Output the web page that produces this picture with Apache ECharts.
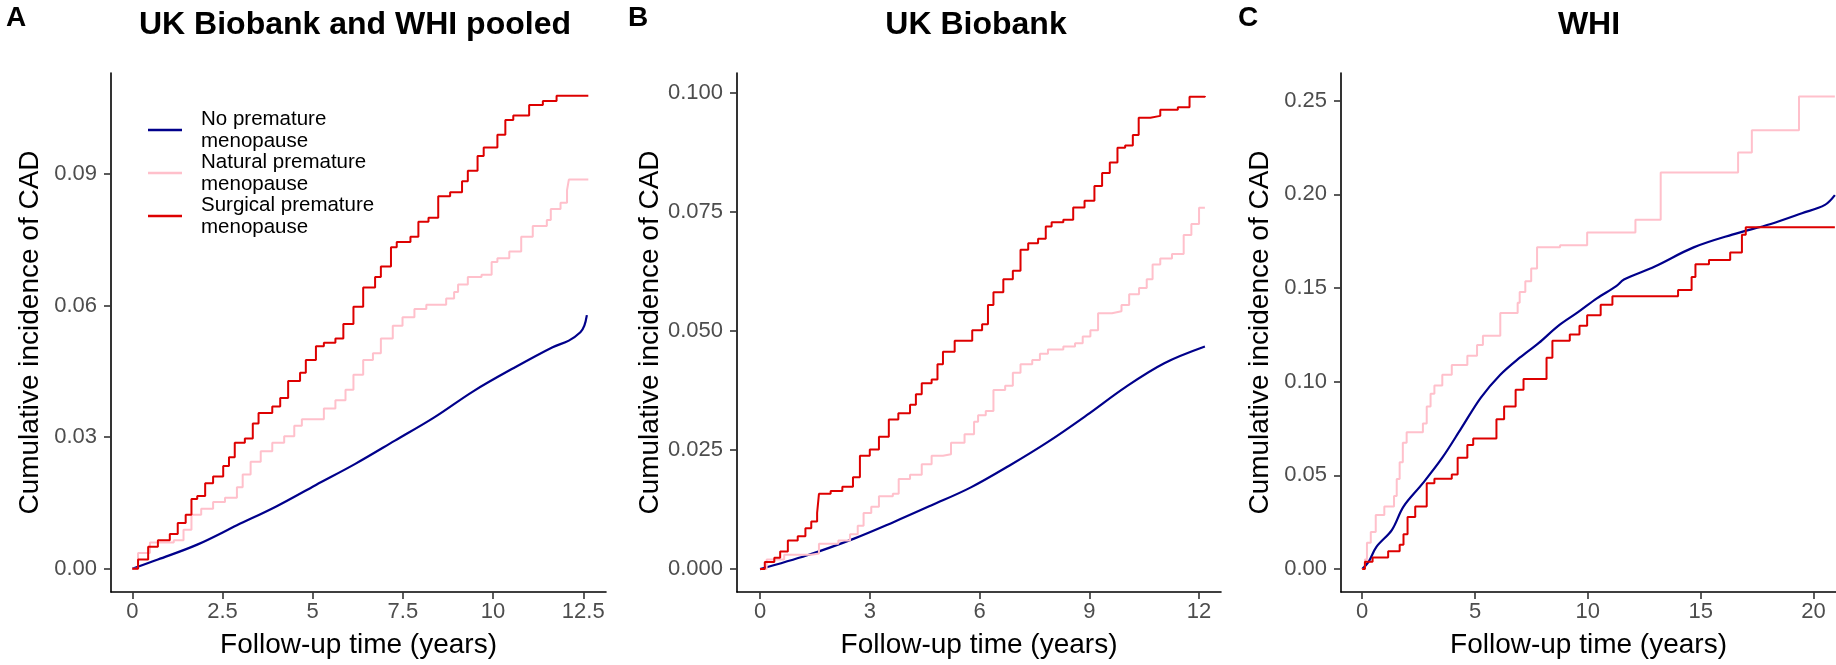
<!DOCTYPE html>
<html>
<head>
<meta charset="utf-8">
<title>Cumulative incidence of CAD</title>
<script src="https://cdn.jsdelivr.net/npm/echarts@6/dist/echarts.min.js"></script>
<style>
html, body { margin: 0; padding: 0; background: #fff; }
#chart { width: 1836px; height: 665px; }
</style>
</head>
<body>
<div id="chart"></div>
<script>
// groups (legend order)
var groups = ['No premature menopause', 'Natural premature menopause', 'Surgical premature menopause'];
var panelTitles = ['UK Biobank and WHI pooled', 'UK Biobank', 'WHI'];
var panelLetters = ['A', 'B', 'C'];

// tick labels
var xTicksA = [0, 2.5, 5, 7.5, 10, 12.5];
var yTicksA = [0, 0.03, 0.06, 0.09];
var xTicksB = [0, 3, 6, 9, 12];
var yTicksB = [0, 0.025, 0.05, 0.075, 0.1];
var xTicksC = [0, 5, 10, 15, 20];
var yTicksC = [0, 0.05, 0.1, 0.15, 0.2, 0.25];

// [follow-up years, cumulative incidence]
var pooledNone = [[0,0],[0.71,0.0021],[1.8,0.0055],[2.9,0.0099],[3.99,0.0142],[5.09,0.0191],[6.18,0.0239],
  [7.28,0.0292],[8.37,0.0345],[9.46,0.0405],[10.56,0.0457],[11.65,0.0505],[12.1,0.052],[12.42,0.0539],
  [12.53,0.0554],[12.6,0.0578]];
var pooledNatural = [[0,0],[0.16,0.0036],[0.49,0.006],[1.15,0.0065],[1.42,0.0089],[1.64,0.0123],[1.91,0.0137],
  [2.24,0.0152],[2.57,0.0162],[2.9,0.0186],[3.06,0.0215],[3.28,0.0244],[3.56,0.0268],[3.88,0.0287],
  [4.21,0.0302],[4.49,0.0326],[4.7,0.0341],[5.09,0.0341],[5.31,0.0365],[5.63,0.0384],[5.91,0.0408],
  [6.13,0.0442],[6.4,0.0476],[6.67,0.0491],[6.89,0.0525],[7.22,0.0554],[7.49,0.0573],[7.82,0.0592],
  [8.15,0.0602],[8.48,0.0602],[8.7,0.0616],[8.92,0.0631],[9.03,0.0648],[9.3,0.0665],[9.68,0.067],
  [9.96,0.0699],[10.12,0.0708],[10.45,0.0723],[10.78,0.0757],[11.1,0.0781],[11.49,0.0795],[11.6,0.082],
  [11.87,0.0834],[12.05,0.0863],[12.1,0.0887],[12.64,0.0887]];
var pooledSurgical = [[0,0],[0.16,0.0021],[0.44,0.005],[0.71,0.0065],[1.04,0.0079],[1.26,0.0104],[1.48,0.0123],
  [1.64,0.0159],[1.8,0.0166],[2.02,0.0195],[2.24,0.021],[2.52,0.0234],[2.68,0.0254],[2.84,0.0287],
  [3.12,0.0297],[3.34,0.0331],[3.5,0.0355],[3.88,0.037],[4.1,0.0389],[4.32,0.0428],[4.65,0.0447],
  [4.81,0.0476],[5.09,0.0507],[5.31,0.0515],[5.63,0.0525],[5.85,0.0558],[6.13,0.0597],[6.4,0.0641],
  [6.73,0.0665],[6.89,0.0689],[7.17,0.0733],[7.33,0.0745],[7.71,0.0757],[7.93,0.0791],[8.21,0.08],
  [8.48,0.0849],[8.81,0.0858],[9.14,0.0883],[9.3,0.0907],[9.57,0.0941],[9.74,0.096],[10.12,0.0989],
  [10.34,0.1023],[10.56,0.1033],[11.0,0.1057],[11.38,0.1066],[11.76,0.1078],[12.64,0.1078]];

var ukbNone = [[0,0],[1.29,0.0029],[2.57,0.0064],[3.63,0.0098],[4.69,0.0134],[5.75,0.0171],[6.81,0.0217],
  [7.87,0.0267],[8.93,0.0323],[9.99,0.0382],[11.05,0.0432],[12.16,0.0467]];
var ukbNatural = [[0,0],[0.18,0.002],[0.66,0.003],[1.4,0.0033],[1.61,0.0053],[2.14,0.006],[2.46,0.0073],
  [2.67,0.0091],[2.83,0.0118],[3.04,0.0131],[3.25,0.0153],[3.63,0.0158],[3.79,0.0189],[4.1,0.0198],
  [4.42,0.022],[4.69,0.0238],[5.0,0.0241],[5.22,0.0265],[5.59,0.0283],[5.85,0.0309],[5.96,0.0323],
  [6.17,0.0332],[6.38,0.0376],[6.7,0.0385],[6.91,0.0412],[7.12,0.043],[7.44,0.0439],[7.65,0.0452],
  [7.87,0.0461],[8.29,0.0467],[8.61,0.0474],[8.82,0.0488],[9.03,0.0501],[9.24,0.0537],[9.62,0.0541],
  [9.88,0.0554],[10.09,0.0577],[10.36,0.059],[10.57,0.0608],[10.73,0.0639],[10.94,0.0652],[11.26,0.0661],
  [11.58,0.0701],[11.79,0.0724],[12.0,0.0758],[12.16,0.0758]];
var ukbSurgical = [[0,0],[0.13,0.0015],[0.39,0.0024],[0.55,0.0037],[0.76,0.006],[1.03,0.0069],[1.24,0.0086],
  [1.4,0.01],[1.56,0.0118],[1.61,0.0158],[1.93,0.0164],[2.25,0.0173],[2.54,0.0193],[2.73,0.0238],
  [3.0,0.0251],[3.25,0.0278],[3.52,0.0314],[3.78,0.0327],[4.1,0.0345],[4.26,0.0367],[4.42,0.039],
  [4.69,0.0398],[4.85,0.043],[5.0,0.0456],[5.32,0.0479],[5.64,0.0479],[5.8,0.0501],[6.07,0.0514],
  [6.23,0.0554],[6.38,0.0581],[6.65,0.0608],[6.91,0.0626],[7.12,0.067],[7.33,0.0684],[7.6,0.0693],
  [7.81,0.0719],[7.97,0.0728],[8.29,0.0733],[8.56,0.0759],[8.87,0.0773],[9.14,0.0804],[9.35,0.0831],
  [9.56,0.0853],[9.77,0.0884],[9.98,0.0889],[10.19,0.0911],[10.35,0.0947],[10.67,0.0951],[10.94,0.0964],
  [11.42,0.0969],[11.74,0.0991],[12.16,0.0993]];

var whiNone = [[0,0],[0.29,0.0039],[0.63,0.0118],[1.32,0.0209],[1.83,0.0333],[2.69,0.0458],[3.55,0.0594],
  [4.4,0.0753],[5.26,0.0915],[6.12,0.1037],[6.98,0.1128],[7.83,0.1207],[8.69,0.1298],[9.55,0.137],
  [10.4,0.1445],[11.26,0.151],[11.6,0.1545],[12.97,0.1615],[14.69,0.1717],[16.4,0.1785],[18.11,0.1842],
  [19.49,0.1899],[20.51,0.1944],[20.95,0.1996]];
var whiNatural = [[0,0],[0.12,0.005],[0.21,0.014],[0.38,0.0197],[0.6,0.0288],[0.98,0.0333],[1.41,0.039],
  [1.53,0.048],[1.66,0.057],[1.8,0.0674],[1.97,0.073],[2.69,0.0776],[2.86,0.0867],[3.03,0.0935],
  [3.2,0.098],[3.55,0.1037],[3.97,0.1089],[4.66,0.1139],[5.09,0.1196],[5.35,0.1245],[6.12,0.1366],
  [6.89,0.1422],[6.98,0.1479],[7.23,0.1536],[7.49,0.1604],[7.75,0.1717],[8.77,0.1729],[9.97,0.1797],
  [12.11,0.1865],[13.23,0.2117],[16.66,0.2224],[17.27,0.2342],[19.36,0.2523],[20.95,0.2523]];
var whiSurgical = [[0,0],[0.12,0.0039],[0.46,0.0061],[1.15,0.0095],[1.66,0.0129],[1.83,0.0186],[2.01,0.0277],
  [2.35,0.0333],[2.86,0.0458],[3.2,0.0481],[3.97,0.0504],[4.23,0.0594],[4.66,0.0662],[4.92,0.0696],
  [5.6,0.0696],[5.95,0.0799],[6.29,0.0867],[6.8,0.0957],[7.15,0.1014],[7.83,0.1014],[8.17,0.1128],
  [8.43,0.1218],[9.2,0.1252],[9.63,0.1298],[9.97,0.1354],[10.57,0.1411],[11.09,0.1456],[13.14,0.1456],
  [14.0,0.149],[14.6,0.1559],[14.77,0.1627],[15.37,0.1649],[16.31,0.169],[16.83,0.1785],[17.0,0.1824],
  [20.95,0.1824]];

var colors = ['#00008B', '#FFC0CB', '#DD0000'];
var font = 'Liberation Sans, Arial, sans-serif';

var chart = echarts.init(document.getElementById('chart'));

function xAxisOf(idx, min, max, ticks) {
    return {
        type: 'value', gridIndex: idx, min: min, max: max,
        name: 'Follow-up time (years)', nameLocation: 'middle', nameGap: 39,
        nameTextStyle: { fontFamily: font, fontSize: 28, color: '#000' },
        axisLine: { onZero: false, lineStyle: { color: '#000', width: 1.6 } },
        axisTick: { customValues: ticks, length: 7, lineStyle: { color: '#333', width: 1.6 } },
        axisLabel: { customValues: ticks, margin: 9, fontFamily: font, fontSize: 22, color: '#4D4D4D' },
        splitLine: { show: false }
    };
}

function yAxisOf(idx, min, max, ticks, digits) {
    return {
        type: 'value', gridIndex: idx, min: min, max: max,
        name: 'Cumulative incidence of CAD', nameLocation: 'middle', nameGap: 67, nameRotate: 90,
        nameTextStyle: { fontFamily: font, fontSize: 28, color: '#000' },
        axisLine: { show: true, onZero: false, lineStyle: { color: '#000', width: 1.6 } },
        axisTick: { show: true, customValues: ticks, length: 7, lineStyle: { color: '#333', width: 1.6 } },
        axisLabel: {
            customValues: ticks, margin: 14, fontFamily: font, fontSize: 22, color: '#4D4D4D',
            formatter: function (v) { return v.toFixed(digits); }
        },
        splitLine: { show: false }
    };
}

// step lines for the smaller groups, smooth line for the large reference group
function line(idx, g, data, step) {
    return {
        name: groups[g], type: 'line', xAxisIndex: idx, yAxisIndex: idx,
        data: data, step: step ? 'end' : false, smooth: step ? false : 0.35,
        showSymbol: false, symbol: 'none',
        color: colors[g], lineStyle: { color: colors[g], width: step ? 2 : 2.2 },
        emphasis: { disabled: true }, animation: false
    };
}

function panelText(x, y, text, size, align) {
    return {
        type: 'text', x: x, y: y,
        style: { text: text, fontFamily: font, fontSize: size, fontWeight: 'bold', fill: '#000',
                 textAlign: align, textVerticalAlign: 'middle' }
    };
}

chart.setOption({
    animation: false,
    grid: [
        { left: 111, right: 1230, top: 73, bottom: 73 },
        { left: 737, right: 615, top: 73, bottom: 73 },
        { left: 1341, right: 0, top: 73, bottom: 73 }
    ],
    xAxis: [
        xAxisOf(0, -0.59, 13.13, xTicksA),
        xAxisOf(1, -0.63, 12.6, xTicksB),
        xAxisOf(2, -0.94, 21.0, xTicksC)
    ],
    yAxis: [
        yAxisOf(0, -0.0053, 0.113, yTicksA, 2),
        yAxisOf(1, -0.0048, 0.1041, yTicksB, 3),
        yAxisOf(2, -0.0123, 0.2648, yTicksC, 2)
    ],
    legend: {
        data: groups, orient: 'vertical', left: 148, top: 108, padding: 0, itemGap: -1,
        icon: 'rect', itemWidth: 34, itemHeight: 2.5, selectedMode: false,
        formatter: function (name) { return name.replace(' menopause', '\nmenopause'); },
        textStyle: { fontFamily: font, fontSize: 20.5, lineHeight: 22, color: '#000', padding: [0, 0, 0, 14] }
    },
    graphic: [
        panelText(6, 18, panelLetters[0], 28, 'left'),
        panelText(628, 18, panelLetters[1], 28, 'left'),
        panelText(1238, 18, panelLetters[2], 28, 'left'),
        panelText(355, 25, panelTitles[0], 32, 'center'),
        panelText(976, 25, panelTitles[1], 32, 'center'),
        panelText(1589, 25, panelTitles[2], 32, 'center')
    ],
    series: [
        line(0, 0, pooledNone, false),
        line(0, 1, pooledNatural, true),
        line(0, 2, pooledSurgical, true),
        line(1, 0, ukbNone, false),
        line(1, 1, ukbNatural, true),
        line(1, 2, ukbSurgical, true),
        line(2, 0, whiNone, false),
        line(2, 1, whiNatural, true),
        line(2, 2, whiSurgical, true)
    ]
});
</script>
</body>
</html>
